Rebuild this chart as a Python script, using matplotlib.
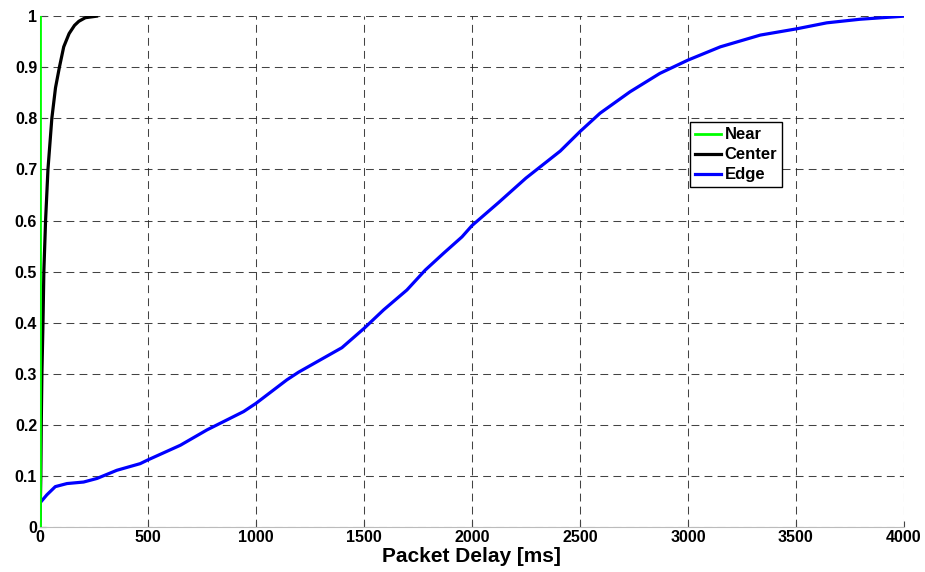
import numpy as np
import matplotlib
matplotlib.use('Agg')
import matplotlib.pyplot as plt

# CDF of packet delay for the three user groups
near_delay = [0, 0]
near_cdf = [0, 1]

center_delay = [0, 2, 4, 6, 9, 14, 18, 26, 37, 55, 72, 90, 110, 135, 160, 180, 210, 262]
center_cdf = [0, 0.05, 0.1, 0.2, 0.3, 0.4, 0.5, 0.6, 0.7, 0.8, 0.86, 0.9, 0.94, 0.966, 0.982, 0.99, 0.997, 1.0]

edge_delay = [0, 32, 71, 125, 202, 264, 356, 464, 498, 650, 773, 943, 1000, 1143, 1197,
              1398, 1501, 1591, 1699, 1784, 1869, 1954, 2000, 2123, 2250, 2409, 2500, 2593,
              2732, 2870, 3000, 3150, 3335, 3500, 3643, 3797, 4000]
edge_cdf = [0.047, 0.063, 0.079, 0.085, 0.088, 0.095, 0.111, 0.124, 0.131, 0.16, 0.19,
            0.226, 0.242, 0.288, 0.303, 0.351, 0.389, 0.425, 0.464, 0.503, 0.536, 0.568,
            0.59, 0.635, 0.683, 0.736, 0.774, 0.81, 0.852, 0.888, 0.914, 0.94, 0.963, 0.975,
            0.987, 0.994, 1.0]

x_ticks = [0, 500, 1000, 1500, 2000, 2500, 3000, 3500, 4000]
y_ticks = [0, 0.1, 0.2, 0.3, 0.4, 0.5, 0.6, 0.7, 0.8, 0.9, 1]
y_tick_labels = ['0', '0.1', '0.2', '0.3', '0.4', '0.5', '0.6', '0.7', '0.8', '0.9', '1']

plt.rcParams['font.family'] = ['Liberation Sans', 'DejaVu Sans']
plt.rcParams['font.weight'] = 'bold'

fig = plt.figure(figsize=(9.25, 5.72), dpi=100)
ax = fig.add_axes([0.0432, 0.0787, 0.934, 0.893])

# edge first so that near/center sit on top near x=0
ax.plot(edge_delay, edge_cdf, color='#0000ff', linewidth=2.3, label='Edge', zorder=3)
ax.plot(center_delay, center_cdf, color='black', linewidth=2.3, label='Center', zorder=4)
ax.plot(near_delay, near_cdf, color='#00ff00', linewidth=2.0, label='Near', zorder=5)

ax.set_xlim(0, 4000)
ax.set_ylim(0, 1)
ax.set_xticks(x_ticks)
ax.set_yticks(y_ticks)
ax.set_yticklabels(y_tick_labels)
ax.tick_params(direction='in', length=4, width=0.8, color='#444444',
               labelsize=11.5, pad=2)
for lbl in ax.get_xticklabels() + ax.get_yticklabels():
    lbl.set_fontweight('bold')

ax.grid(True, color='#222222', linewidth=0.75, linestyle=(0, (7.5, 5)), alpha=0.85)
ax.set_axisbelow(True)

for side in ['top', 'right']:
    ax.spines[side].set_visible(False)
for side in ['bottom', 'left']:
    ax.spines[side].set_color('#bbbbbb')
    ax.spines[side].set_linewidth(0.8)

ax.set_xlabel('Packet Delay [ms]', fontsize=15, fontweight='bold', labelpad=1.5)

# legend order: Near, Center, Edge
handles, labels = ax.get_legend_handles_labels()
order = [2, 1, 0]
leg = ax.legend([handles[i] for i in order], [labels[i] for i in order],
                loc='upper left', bbox_to_anchor=(0.752, 0.792), borderaxespad=0,
                fancybox=False, framealpha=1, edgecolor='black', fontsize=12,
                handlelength=1.6, handletextpad=0.2, borderpad=0.3, labelspacing=0.3)
leg.get_frame().set_linewidth(1.0)
for t in leg.get_texts():
    t.set_fontweight('bold')

fig.savefig('out.png', dpi=100)
